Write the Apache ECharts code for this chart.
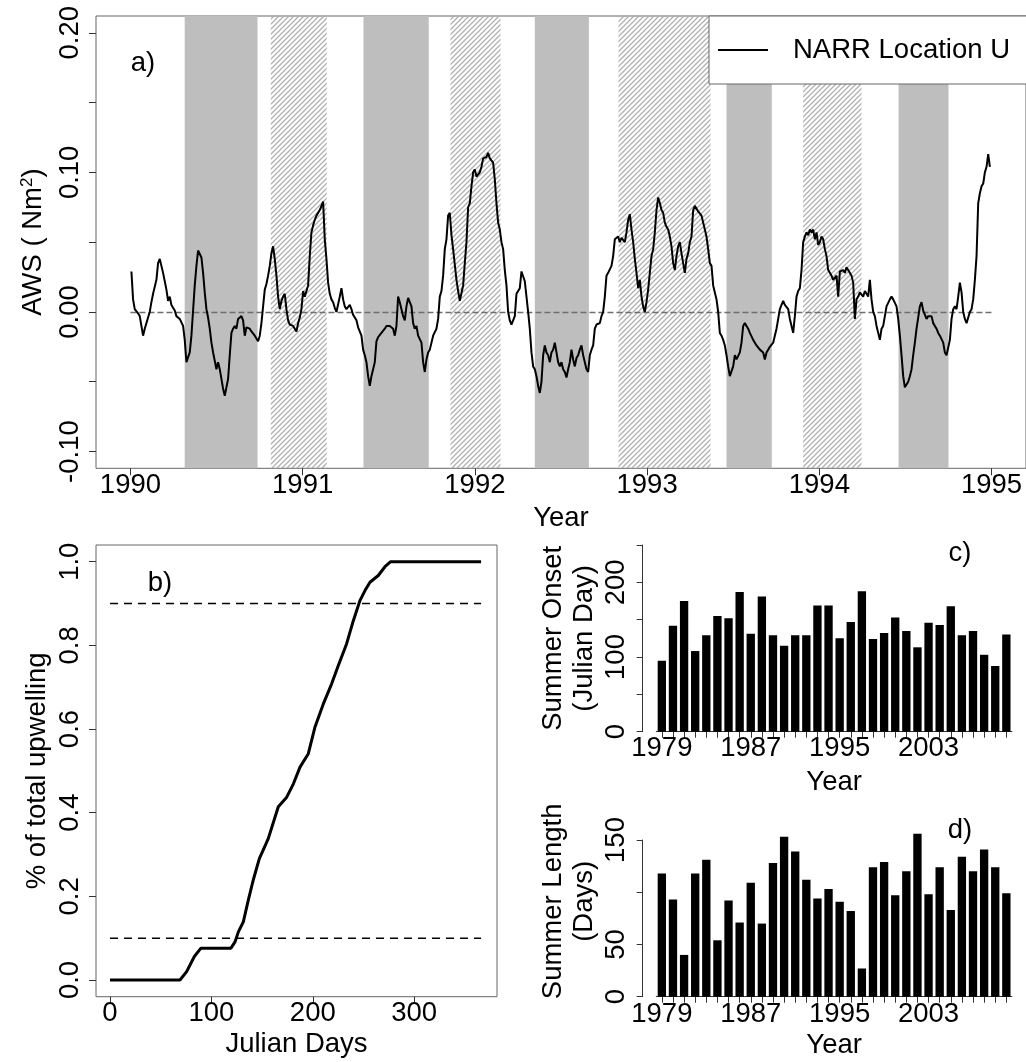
<!DOCTYPE html>
<html><head><meta charset="utf-8">
<script src="https://cdn.jsdelivr.net/npm/echarts@6/dist/echarts.min.js"></script>
<style>html,body{margin:0;padding:0;background:#fff}#c{width:1026px;height:1062px}</style>
</head><body><div id="c"></div>
<script>
// ---------- Panel a: AWS time series (regular sampling) ----------
const awsStartYear = 1990.0056;
const awsStepYears = 0.009679;
const awsValues = [
0.029,0.009,0.002,0.001,-0.001,-0.003,-0.004,-0.017,-0.012,-0.008,-0.004,0.000,0.007,0.013,0.014,0.023,0.035,0.038,0.033,0.028,
0.022,0.016,0.008,0.011,0.005,0.003,0.001,-0.003,-0.002,-0.005,-0.006,-0.010,-0.020,-0.036,-0.035,-0.029,-0.017,0.001,0.019,0.033,
0.044,0.044,0.039,0.028,0.014,0.002,-0.004,-0.012,-0.022,-0.029,-0.035,-0.041,-0.036,-0.041,-0.048,-0.055,-0.060,-0.059,-0.048,-0.031,
-0.015,-0.012,-0.010,-0.012,-0.005,-0.004,-0.003,-0.006,-0.017,-0.011,-0.010,-0.012,-0.014,-0.015,-0.017,-0.018,-0.021,-0.017,-0.008,0.004,
0.016,0.020,0.026,0.033,0.042,0.047,0.038,0.026,0.011,0.002,0.008,0.011,0.013,0.002,-0.006,-0.009,-0.009,-0.010,-0.012,-0.014,
-0.008,-0.004,0.002,0.015,0.011,0.011,0.019,0.040,0.057,0.062,0.066,0.069,0.070,0.073,0.076,0.079,0.052,0.038,0.021,0.013,
0.009,0.007,0.003,0.000,0.000,0.011,0.017,0.009,0.004,0.002,0.003,0.005,0.002,-0.002,-0.003,-0.006,-0.011,-0.010,-0.017,-0.027,
-0.031,-0.036,-0.046,-0.053,-0.046,-0.046,-0.036,-0.021,-0.018,-0.017,-0.015,-0.016,-0.012,-0.010,-0.009,-0.010,-0.011,-0.012,-0.017,-0.010,
0.011,0.007,0.002,-0.003,-0.006,0.004,0.010,0.009,0.004,-0.008,-0.012,-0.010,-0.017,-0.018,-0.022,-0.036,-0.043,-0.034,-0.029,-0.027,
-0.022,-0.017,-0.016,-0.012,-0.005,0.011,0.015,0.026,0.045,0.052,0.069,0.071,0.055,0.045,0.034,0.023,0.015,0.008,0.009,0.019,
0.035,0.050,0.075,0.078,0.090,0.100,0.102,0.097,0.098,0.100,0.104,0.110,0.109,0.111,0.114,0.110,0.111,0.107,0.095,0.078,
0.064,0.059,0.050,0.045,0.030,0.019,0.000,-0.006,-0.009,-0.008,-0.003,0.013,0.014,0.017,0.029,0.029,0.022,0.011,0.000,-0.012,
-0.029,-0.039,-0.041,-0.046,-0.053,-0.058,-0.050,-0.031,-0.024,-0.029,-0.031,-0.036,-0.029,-0.027,-0.022,-0.029,-0.036,-0.039,-0.036,-0.041,
-0.043,-0.047,-0.041,-0.036,-0.027,-0.034,-0.039,-0.033,-0.031,-0.027,-0.024,-0.031,-0.036,-0.041,-0.043,-0.031,-0.027,-0.024,-0.012,-0.009,
-0.010,-0.008,-0.003,0.000,0.011,0.026,0.028,0.029,0.033,0.040,0.052,0.053,0.054,0.050,0.053,0.054,0.050,0.057,0.066,0.070,
0.059,0.050,0.038,0.028,0.017,0.023,0.011,0.004,0.000,0.007,0.016,0.028,0.040,0.045,0.057,0.073,0.082,0.078,0.073,0.071,
0.064,0.061,0.059,0.054,0.047,0.035,0.030,0.040,0.047,0.050,0.042,0.035,0.028,0.038,0.042,0.050,0.054,0.073,0.076,0.075,
0.072,0.071,0.069,0.064,0.059,0.054,0.045,0.035,0.033,0.019,0.014,0.009,0.000,-0.015,-0.017,-0.020,-0.024,-0.031,-0.039,-0.046,
-0.047,-0.039,-0.031,-0.034,-0.034,-0.029,-0.022,-0.010,-0.008,-0.010,-0.012,-0.015,-0.015,-0.020,-0.022,-0.024,-0.023,-0.027,-0.028,-0.029,
-0.034,-0.029,-0.027,-0.025,-0.024,-0.022,-0.017,-0.012,-0.005,0.002,0.005,0.008,0.005,0.005,0.002,-0.005,-0.010,-0.015,-0.003,0.011,
0.015,0.017,0.030,0.050,0.054,0.057,0.055,0.059,0.057,0.059,0.052,0.057,0.048,0.050,0.054,0.052,0.045,0.040,0.030,0.028,
0.026,0.023,0.023,0.026,0.011,0.029,0.030,0.030,0.028,0.032,0.030,0.030,0.026,0.021,-0.005,0.009,0.011,0.014,0.015,0.011,
0.015,0.013,0.011,0.023,0.009,0.000,-0.003,-0.010,-0.015,-0.020,-0.012,-0.010,-0.003,0.004,0.005,0.009,0.011,0.009,0.010,0.004,
-0.005,-0.017,-0.031,-0.046,-0.054,-0.053,-0.050,-0.046,-0.041,-0.031,-0.022,-0.012,-0.004,0.004,0.007,0.001,0.000,-0.005,-0.003,-0.003,
-0.003,-0.008,-0.010,-0.012,-0.015,-0.017,-0.017,-0.022,-0.029,-0.031,-0.030,-0.020,-0.005,0.002,0.004,0.002,0.011,0.021,0.014,0.000,
-0.005,-0.008,-0.008,0.000,0.002,0.009,0.023,0.040,0.078,0.085,0.090,0.092,0.100,0.104,0.113,0.104
];
const zeroLineYears = [1990, 1995];
const graySeasonStart = [1990.315, 1991.353, 1992.348, 1993.461, 1994.460];
const graySeasonEnd   = [1990.738, 1991.732, 1992.662, 1993.724, 1994.750];
const hatchSeasonStart = [1990.815, 1991.858, 1992.834, 1993.906];
const hatchSeasonEnd   = [1991.140, 1992.149, 1993.368, 1994.245];
const yearTicksA = [1990, 1991, 1992, 1993, 1994, 1995];
const awsTicks = [-0.10, -0.05, 0.00, 0.05, 0.10, 0.15, 0.20];
const awsLabels = [-0.10, 0.00, 0.10, 0.20];

// ---------- Panel b: cumulative upwelling ----------
const cumDays = [0, 69, 75.6, 83.2, 89.7, 119.3, 123.3, 126.6, 131.5, 136.4, 141.3, 147.3, 156.1, 166, 174.3, 180.9, 187.4, 195.6, 202.2, 210.4, 218.6, 225.2, 233.4, 240, 246.5, 251.5, 256.4, 264.6, 271.2, 276.8, 366];
const cumFrac = [0, 0, 0.02, 0.056, 0.076, 0.076, 0.091, 0.115, 0.139, 0.191, 0.239, 0.29, 0.338, 0.414, 0.437, 0.469, 0.509, 0.541, 0.605, 0.66, 0.708, 0.752, 0.804, 0.859, 0.907, 0.931, 0.951, 0.967, 0.988, 1.0, 1.0];
const thresholdDays = [0, 366];
const thresholdLevels = [0.1, 0.9];
const dayTicks = [0, 100, 200, 300];
const fracTicks = [0, 0.2, 0.4, 0.6, 0.8, 1.0];

// ---------- Panels c, d ----------
const barYears = ['1979','1980','1981','1982','1983','1984','1985','1986','1987','1988','1989','1990','1991','1992','1993','1994','1995','1996','1997','1998','1999','2000','2001','2002','2003','2004','2005','2006','2007','2008','2009','2010'];
const onsetDays = [95,142,175,108,129,155,152,187,131,181,129,115,129,129,169,169,125,147,188,124,132,153,135,113,146,143,168,129,135,103,88,130];
const lengthDays = [118,93,40,118,131,54,92,71,109,70,128,153,139,112,94,103,91,82,27,124,129,97,120,156,98,124,83,134,120,141,124,99];
const onsetTicks = [0, 50, 100, 150, 200, 250];
const onsetLabels = [0, 100, 200];
const lengthTicks = [0, 50, 100, 150];
const lengthLabels = [0, 50, 150];

// ---------- styling ----------
const FONT = '"Liberation Sans", Arial, Helvetica, sans-serif';
const FS = 27.5;
const AXC = '#333';
const BOX = '#666';
const txt = {fontSize: FS, fontFamily: FONT, color: '#000'};

function hatchPattern() {
  const s = 5, c = document.createElement('canvas');
  c.width = s; c.height = s;
  const g = c.getContext('2d');
  g.strokeStyle = '#b0b0b0'; g.lineWidth = 1.25;
  g.beginPath();
  g.moveTo(0, s); g.lineTo(s, 0);
  g.moveTo(-1, 1); g.lineTo(1, -1);
  g.moveTo(s - 1, s + 1); g.lineTo(s + 1, s - 1);
  g.stroke();
  return c;
}
const hatch = hatchPattern();

const bandAreas = graySeasonStart.map((s, i) => [{xAxis: s, itemStyle: {color: '#bebebe'}}, {xAxis: graySeasonEnd[i]}])
  .concat(hatchSeasonStart.map((s, i) => [{xAxis: s, itemStyle: {color: {image: hatch, repeat: 'repeat'}}}, {xAxis: hatchSeasonEnd[i]}]));

function valAxisX(grid, min, max, ticks, name, gap) {
  return {gridIndex: grid, type: 'value', min, max, position: 'bottom',
    axisLine: {show: false, onZero: false},
    axisTick: {show: true, customValues: ticks, length: 7, lineStyle: {color: AXC}},
    axisLabel: Object.assign({customValues: ticks, margin: 3, lineHeight: FS, formatter: v => String(v)}, txt),
    splitLine: {show: false},
    name, nameLocation: 'middle', nameGap: gap, nameTextStyle: Object.assign({lineHeight: FS}, txt)};
}

const chart = echarts.init(document.getElementById('c'), null, {renderer: 'canvas'});
chart.setOption({
  animation: false,
  backgroundColor: '#fff',
  grid: [
    {left: 96, top: 16, width: 930, height: 452.3, show: true, borderColor: BOX, borderWidth: 1, backgroundColor: 'transparent'},
    {left: 96, top: 545, width: 401, height: 451.7, show: true, borderColor: BOX, borderWidth: 1, backgroundColor: 'transparent'},
    {left: 656.3, top: 545, width: 355.6, height: 186.7},
    {left: 656.3, top: 840, width: 355.6, height: 156.7}
  ],
  xAxis: [
    valAxisX(0, 1989.8, 1995.2, yearTicksA, 'Year', 36),
    valAxisX(1, -13.8, 381.7, dayTicks, 'Julian Days', 34),
    {gridIndex: 2, type: 'category', data: barYears, boundaryGap: true, position: 'bottom',
      axisLine: {show: true, onZero: false, lineStyle: {color: AXC}},
      axisTick: {show: true, alignWithLabel: true, interval: 0, length: 6, lineStyle: {color: AXC}},
      axisLabel: Object.assign({interval: 7, margin: 3, lineHeight: FS}, txt),
      name: 'Year', nameLocation: 'middle', nameGap: 37, nameTextStyle: Object.assign({lineHeight: FS}, txt)},
    {gridIndex: 3, type: 'category', data: barYears, boundaryGap: true, position: 'bottom',
      axisLine: {show: true, onZero: false, lineStyle: {color: AXC}},
      axisTick: {show: true, alignWithLabel: true, interval: 0, length: 6, lineStyle: {color: AXC}},
      axisLabel: Object.assign({interval: 7, margin: 4, lineHeight: FS}, txt),
      name: 'Year', nameLocation: 'middle', nameGap: 35, nameTextStyle: Object.assign({lineHeight: FS}, txt)}
  ],
  yAxis: [
    {gridIndex: 0, type: 'value', min: -0.112, max: 0.212, position: 'left',
      axisLine: {show: false, onZero: false},
      axisTick: {show: true, customValues: awsTicks, length: 7, lineStyle: {color: AXC}},
      axisLabel: Object.assign({customValues: awsLabels, rotate: 90, margin: 12, lineHeight: FS, formatter: v => v.toFixed(2)}, txt),
      splitLine: {show: false},
      name: 'AWS ( Nm{sup|2})', nameLocation: 'middle', nameRotate: 90, nameGap: 45,
      nameTextStyle: Object.assign({lineHeight: 30, rich: {sup: {fontSize: 17, fontFamily: FONT, color: '#000', lineHeight: 17, verticalAlign: 'top'}}}, txt)},
    {gridIndex: 1, type: 'value', min: -0.04, max: 1.04, position: 'left',
      axisLine: {show: false, onZero: false},
      axisTick: {show: true, customValues: fracTicks, length: 7, lineStyle: {color: AXC}},
      axisLabel: Object.assign({customValues: fracTicks, rotate: 90, margin: 12, lineHeight: FS, formatter: v => v.toFixed(1)}, txt),
      splitLine: {show: false},
      name: '% of total upwelling', nameLocation: 'middle', nameRotate: 90, nameGap: 45,
      nameTextStyle: Object.assign({lineHeight: FS}, txt)},
    {gridIndex: 2, type: 'value', min: 0, max: 250, offset: 13.6, position: 'left',
      axisLine: {show: true, onZero: false, lineStyle: {color: AXC}},
      axisTick: {show: true, customValues: onsetTicks, length: 6, lineStyle: {color: AXC}},
      axisLabel: Object.assign({customValues: onsetLabels, rotate: 90, margin: 13, lineHeight: FS}, txt),
      splitLine: {show: false},
      name: 'Summer Onset\n(Julian Day)', nameLocation: 'middle', nameRotate: 90, nameGap: 43,
      nameTextStyle: Object.assign({lineHeight: 31}, txt)},
    {gridIndex: 3, type: 'value', min: 0, max: 150, offset: 13.6, position: 'left',
      axisLine: {show: true, onZero: false, lineStyle: {color: AXC}},
      axisTick: {show: true, customValues: lengthTicks, length: 6, lineStyle: {color: AXC}},
      axisLabel: Object.assign({customValues: lengthLabels, rotate: 90, margin: 13, lineHeight: FS}, txt),
      splitLine: {show: false},
      name: 'Summer Length\n(Days)', nameLocation: 'middle', nameRotate: 90, nameGap: 43,
      nameTextStyle: Object.assign({lineHeight: 31, padding: [0, 0, 0, 34]}, txt)}
  ],
  legend: {
    data: [{name: 'NARR Location U', icon: 'rect'}], left: 709, top: 16,
    backgroundColor: '#fff', borderColor: BOX, borderWidth: 1, borderRadius: 0,
    padding: [20, 24, 20, 9], itemWidth: 50, itemHeight: 2,
    textStyle: Object.assign({padding: [0, 0, 0, 20], lineHeight: FS}, txt)
  },
  series: [
    {type: 'line', name: 'bands', xAxisIndex: 0, yAxisIndex: 0, z: 1, data: [], showSymbol: false, symbol: 'none',
      lineStyle: {width: 0}, silent: true,
      markArea: {silent: true, z: 1, data: bandAreas},
      markLine: {silent: true, z: 3, symbol: ['none', 'none'], label: {show: false},
        lineStyle: {color: '#6e6e6e', width: 1.3, type: [6, 3]},
        data: [[{coord: [zeroLineYears[0], 0]}, {coord: [zeroLineYears[1], 0]}]]}},
    {type: 'line', name: 'NARR Location U', xAxisIndex: 0, yAxisIndex: 0, z: 4, symbol: 'none', showSymbol: false,
      data: awsValues.map((v, i) => [awsStartYear + i * awsStepYears, v]),
      lineStyle: {color: '#000', width: 2}, itemStyle: {color: '#000'}},
    {type: 'line', name: 'cum', xAxisIndex: 1, yAxisIndex: 1, symbol: 'none', z: 4,
      data: cumDays.map((d, i) => [d, cumFrac[i]]),
      lineStyle: {color: '#000', width: 3}},
    ...thresholdLevels.map(l => ({type: 'line', name: 'thr' + l, xAxisIndex: 1, yAxisIndex: 1, symbol: 'none', z: 3,
      data: thresholdDays.map(d => [d, l]), lineStyle: {color: '#000', width: 1.5, type: [8, 6]}})),
    {type: 'bar', name: 'onset', xAxisIndex: 2, yAxisIndex: 2, data: onsetDays, barWidth: '75%',
      itemStyle: {color: '#000'}},
    {type: 'bar', name: 'length', xAxisIndex: 3, yAxisIndex: 3, data: lengthDays, barWidth: '75%', clip: false,
      itemStyle: {color: '#000'}}
  ],
  graphic: [
    {type: 'text', x: 143, y: 63, style: {text: 'a)', fontSize: FS, fontFamily: FONT, fill: '#000', align: 'center', verticalAlign: 'middle'}},
    {type: 'text', x: 160, y: 583, style: {text: 'b)', fontSize: FS, fontFamily: FONT, fill: '#000', align: 'center', verticalAlign: 'middle'}},
    {type: 'text', x: 960, y: 553, style: {text: 'c)', fontSize: FS, fontFamily: FONT, fill: '#000', align: 'center', verticalAlign: 'middle'}},
    {type: 'text', x: 960, y: 830, style: {text: 'd)', fontSize: FS, fontFamily: FONT, fill: '#000', align: 'center', verticalAlign: 'middle'}}
  ]
});
</script></body></html>
